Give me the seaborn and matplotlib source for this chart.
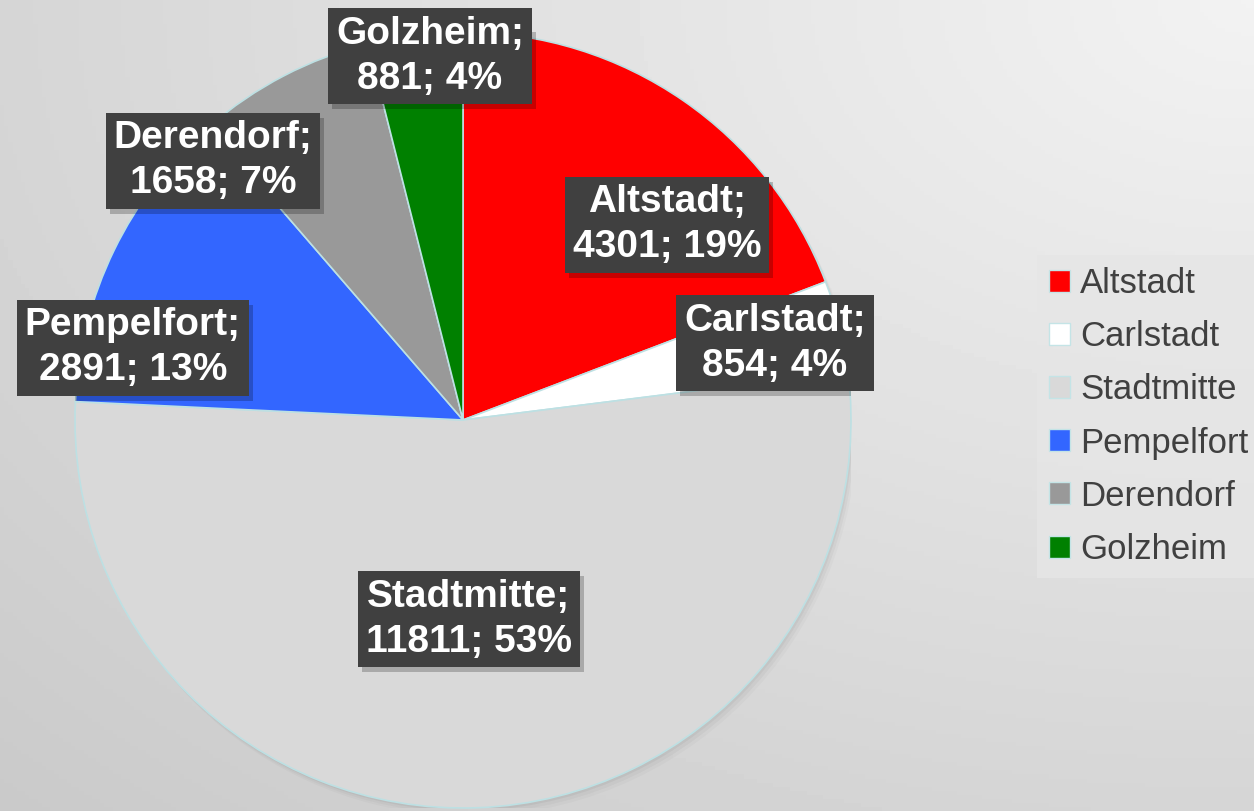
import numpy as np
import matplotlib
matplotlib.use("Agg")
import matplotlib.pyplot as plt
from matplotlib.patches import Patch, Rectangle
import seaborn as sns

# Daten
districts = ["Altstadt", "Carlstadt", "Stadtmitte", "Pempelfort", "Derendorf", "Golzheim"]
residents = [4301, 854, 11811, 2891, 1658, 881]
colors = ["#ff0000", "#ffffff", "#d9d9d9", "#3366ff", "#999999", "#008000"]

# label box centres (axes data coords, radius = 1)
label_pos = [(0.526, 0.503), (0.804, 0.198), (0.015, -0.513),
             (-0.851, 0.186), (-0.644, 0.668), (-0.085, 0.938)]

sns.set_theme(style="white")
plt.rcParams["font.family"] = ["Liberation Sans", "DejaVu Sans"]

W, H = 1254, 811
fig = plt.figure(figsize=(W / 100, H / 100), dpi=100)

# background gradient
bg = fig.add_axes([0, 0, 1, 1])
yy, xx = np.mgrid[0:1:200j, 0:1:300j]
d = np.sqrt((xx - 1.0) ** 2 + (yy - 0.0) ** 2)
d = d / d.max()
bg.imshow(0.95 - 0.16 * d, cmap="gray", vmin=0, vmax=1, aspect="auto",
          extent=[0, 1, 0, 1], origin="upper")
bg.set_axis_off()

cx, cy, r = 463, 420, 388
ax = fig.add_axes([(cx - r) / W, (H - cy - r) / H, 2 * r / W, 2 * r / H])

# soft shadow of the pie
for k, a in enumerate([0.04, 0.03, 0.02]):
    sh = plt.Circle((0.005 * (k + 1), -0.007 * (k + 1)), 1.0, color="black",
                    alpha=a, lw=0, zorder=0)
    ax.add_patch(sh)

ax.pie(residents, colors=colors, startangle=90, counterclock=False, radius=1,
       wedgeprops=dict(edgecolor="#bde0e3", linewidth=1.2))
ax.set_xlim(-1, 1)
ax.set_ylim(-1, 1)
ax.set_aspect("equal")
ax.set_axis_off()

total = sum(residents)
labels = []
for name, val, (x, y) in zip(districts, residents, label_pos):
    txt = f"{name};\n{val}; {val / total:.0%}"
    t = ax.text(x, y, txt, color="white", ha="center", va="center", fontsize=28,
                fontweight="bold", linespacing=1.32, zorder=6,
                bbox=dict(boxstyle="square,pad=0.2", fc="#404040", ec="none"))
    labels.append(t)

# drop shadows behind the label boxes
fig.canvas.draw()
for t in labels:
    bb = t.get_bbox_patch().get_window_extent()
    ax.add_artist(Rectangle((bb.x0 + 4, bb.y0 - 5), bb.width, bb.height,
                            transform=None, fc="black", alpha=0.22, ec="none",
                            zorder=5))

handles = [Patch(facecolor=c, edgecolor="#c4e4e6", linewidth=1) for c in colors]
leg = fig.legend(handles, districts, loc="upper left",
                 bbox_to_anchor=(1037 / W, 1 - 255 / H), frameon=True,
                 fontsize=25, handlelength=0.6, handleheight=0.6,
                 handletextpad=0.3, labelspacing=0.58, borderpad=0.35,
                 borderaxespad=0, fancybox=False)
leg.get_frame().set_facecolor("#e6e6e6")
leg.get_frame().set_edgecolor("none")
for t in leg.get_texts():
    t.set_color("#404040")

fig.savefig("out.png", dpi=100)
